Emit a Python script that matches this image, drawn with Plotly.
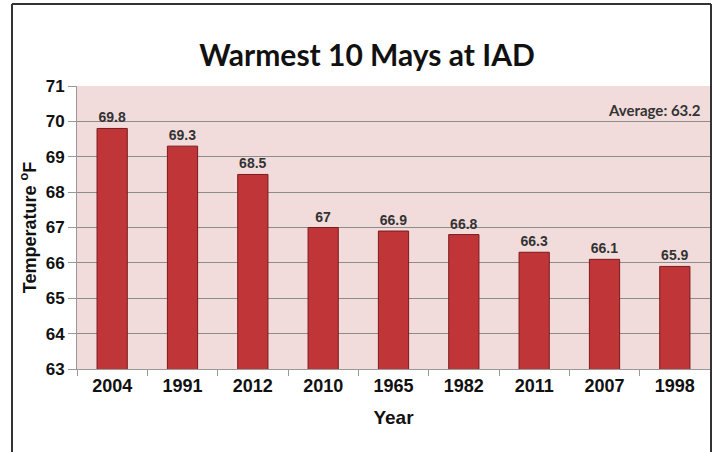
import plotly.graph_objects as go

years = ["2004", "1991", "2012", "2010", "1965", "1982", "2011", "2007", "1998"]
temps = [69.8, 69.3, 68.5, 67, 66.9, 66.8, 66.3, 66.1, 65.9]
labels = ["69.8", "69.3", "68.5", "67", "66.9", "66.8", "66.3", "66.1", "65.9"]
y_ticks = [63, 64, 65, 66, 67, 68, 69, 70, 71]
average_text = "Average: 63.2"

fig = go.Figure()
fig.add_trace(go.Bar(
    x=years, y=temps,
    text=labels, textposition="outside", cliponaxis=False,
    textfont=dict(family="Liberation Sans", size=14, color="#333333", weight="bold"),
    marker=dict(color="#c03638", line=dict(color="#7a1a1c", width=1)),
    width=0.43,
))

L, R, T, B = 77, 5, 86, 83
W, H = 715, 452
pw, ph = W - L - R, H - T - B

def px(x):
    return (x - L) / pw

def py(y):
    return (H - B - y) / ph

fig.update_layout(
    width=W, height=H,
    margin=dict(l=L, r=R, t=T, b=B),
    paper_bgcolor="white",
    plot_bgcolor="#f2dcdb",
    showlegend=False,
    title=dict(text="<b>Warmest 10 Mays at IAD</b>", x=(367) / W, xanchor="center",
               y=1 - 55 / H, yanchor="middle",
               font=dict(family="Lato", size=30, color="#111111")),
    xaxis=dict(type="category", tickson="boundaries", ticks="outside", ticklen=6,
               tickcolor="#999999", showline=True, linecolor="#999999", linewidth=1,
               showgrid=False,
               tickfont=dict(family="Liberation Sans", size=18, color="#111111", weight="bold"),
               title=dict(text="<b>Year</b>", standoff=16,
                          font=dict(family="Liberation Sans", size=19, color="#111111"))),
    yaxis=dict(range=[63, 71], tickvals=y_ticks, ticks="outside", ticklen=8,
               tickcolor="#999999", showline=True, linecolor="#999999", linewidth=1,
               showgrid=True, gridcolor="#8c8c8c", gridwidth=1,
               tickfont=dict(family="Liberation Sans", size=17, color="#111111", weight="bold"),
               title=dict(text="<b>Temperature <sup>o</sup>F</b>", standoff=4,
                          font=dict(family="Liberation Sans", size=18, color="#111111"))),
    annotations=[dict(text=average_text, xref="paper", yref="paper",
                      x=px(703), y=py(110), xanchor="right", yanchor="middle",
                      showarrow=False,
                      font=dict(family="Lato", size=15, color="#333333", weight="bold"))],
    shapes=[
        dict(type="line", xref="paper", yref="paper", x0=px(12), x1=px(12), y0=py(4), y1=py(460),
             line=dict(color="#333333", width=2)),
        dict(type="line", xref="paper", yref="paper", x0=px(12), x1=px(711), y0=py(4), y1=py(4),
             line=dict(color="#333333", width=2)),
        dict(type="line", xref="paper", yref="paper", x0=px(711), x1=px(711), y0=py(4), y1=py(460),
             line=dict(color="#333333", width=2)),
    ],
)

fig.write_html("out.html", config={"displayModeBar": False},
               post_script="document.body.style.margin='0';document.body.style.overflow='hidden';")
